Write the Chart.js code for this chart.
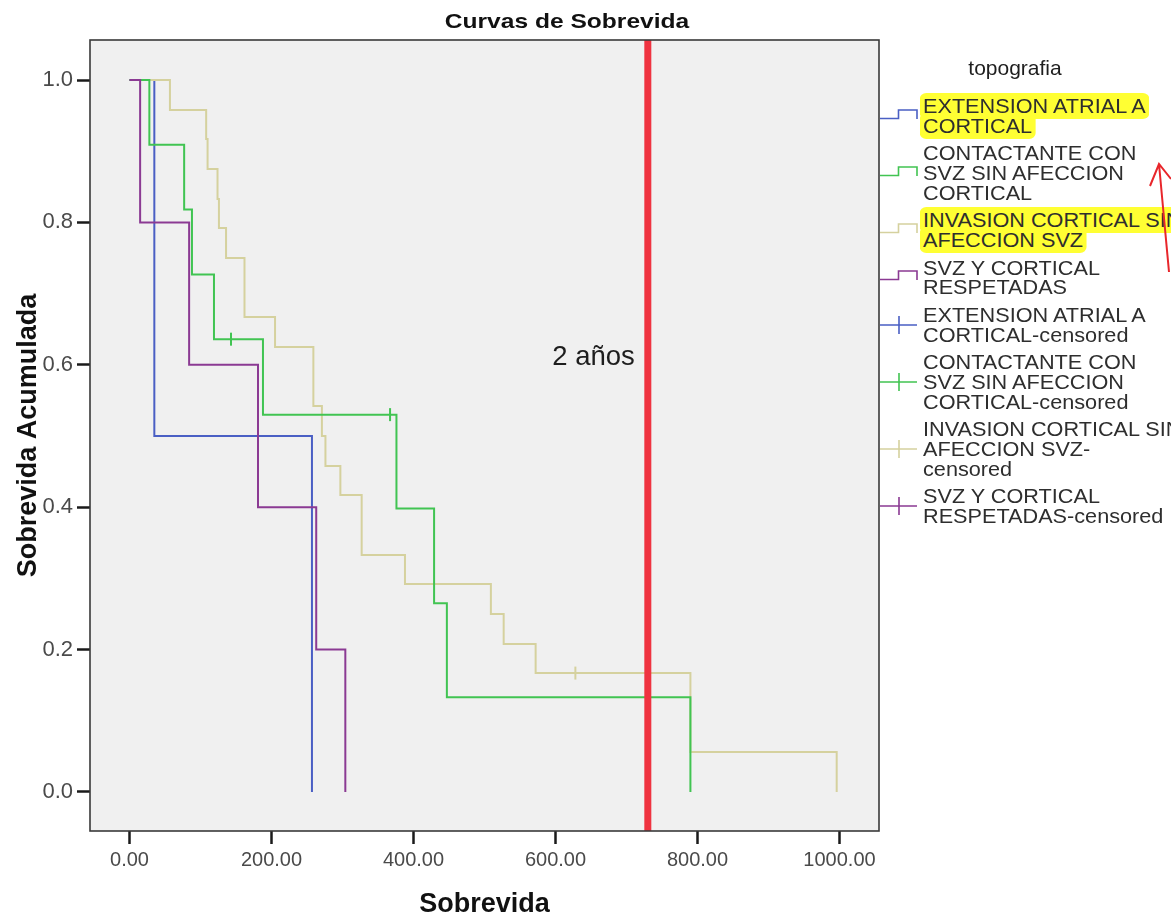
<!DOCTYPE html>
<html><head><meta charset="utf-8">
<script src="https://cdn.jsdelivr.net/npm/chart.js@4/dist/chart.umd.min.js"></script>
<style>
html,body{margin:0;padding:0;background:#fff;overflow:hidden;}
#wrap{position:relative;width:1171px;height:917px;overflow:hidden;background:#fff;}
#c{position:absolute;left:0;top:0;}
#legend{position:absolute;left:880px;top:97px;font-family:'Liberation Sans',Arial,sans-serif;color:#2e2e2e;}
#ltitle{position:absolute;left:915px;top:56px;width:200px;text-align:center;font-family:'Liberation Sans',Arial,sans-serif;font-size:21px;line-height:24px;color:#1e1e1e;}
.item{position:relative;padding-left:43px;margin-bottom:7.7px;line-height:19.8px;font-size:20px;white-space:nowrap;}
.item svg{position:absolute;left:0;top:50%;}
.txt{transform:scaleX(1.083);transform-origin:0 0;}
.hl span{background:#ffff33;border-radius:6px;-webkit-box-decoration-break:clone;box-decoration-break:clone;padding:2px 3px;margin-left:-3px;}
#arrow{position:absolute;left:0;top:0;pointer-events:none;}
</style></head>
<body><div id="wrap"><canvas id="c" width="1171" height="917"></canvas><div id="ltitle"></div><div id="legend"></div>
<svg id="arrow" width="1171" height="917"><path d="M1169,272 L1159,164 M1150,186 L1159,164 L1171,179" fill="none" stroke="#e8262b" stroke-width="2"/></svg>
</div>
<script>
const chartTitle = 'Curvas de Sobrevida';
const xAxisTitle = 'Sobrevida';
const yAxisTitle = 'Sobrevida Acumulada';
const legendTitle = 'topografia';
const cutoffTime = 730;
const cutoffLabel = '2 años';

const xTickValues = [0, 200, 400, 600, 800, 1000];
const yTickValues = [0, 0.2, 0.4, 0.6, 0.8, 1.0];

// EXTENSION ATRIAL A CORTICAL
const blueTimes = [0, 35, 257];
const blueSurv  = [1, 0.5, 0];
// CONTACTANTE CON SVZ SIN AFECCION CORTICAL
const greenTimes = [0, 28, 77, 88, 119, 188, 376, 429, 447, 790];
const greenSurv  = [1, 0.909, 0.818, 0.727, 0.636, 0.530, 0.398, 0.265, 0.133, 0];
const greenCensorTimes = [143, 367];
const greenCensorSurv  = [0.636, 0.530];
// INVASION CORTICAL SIN AFECCION SVZ
const tanTimes = [0, 57, 108, 110, 124, 126, 136, 162, 205, 259, 271, 276, 297, 327, 388, 509, 527, 572, 790, 996];
const tanSurv  = [1, 0.958, 0.917, 0.875, 0.833, 0.792, 0.75, 0.667, 0.625, 0.542, 0.5, 0.458, 0.417, 0.333, 0.292, 0.25, 0.208, 0.167, 0.056, 0];
const tanCensorTimes = [628];
const tanCensorSurv  = [0.167];
// SVZ Y CORTICAL RESPETADAS
const purpleTimes = [0, 15, 84, 181, 263, 304];
const purpleSurv  = [1, 0.8, 0.6, 0.4, 0.2, 0];

const colBlue = '#4a5fc4', colGreen = '#41c452', colTan = '#d5d19e', colPurple = '#8b3a93', colRed = '#ef3340';

const legendItems = [
  {lines:['EXTENSION ATRIAL A','CORTICAL'], color:colBlue, kind:'step', hl:true},
  {lines:['CONTACTANTE CON','SVZ SIN AFECCION','CORTICAL'], color:colGreen, kind:'step'},
  {lines:['INVASION CORTICAL SIN','AFECCION SVZ'], color:colTan, kind:'step', hl:true},
  {lines:['SVZ Y CORTICAL','RESPETADAS'], color:colPurple, kind:'step'},
  {lines:['EXTENSION ATRIAL A','CORTICAL-censored'], color:colBlue, kind:'cens'},
  {lines:['CONTACTANTE CON','SVZ SIN AFECCION','CORTICAL-censored'], color:colGreen, kind:'cens'},
  {lines:['INVASION CORTICAL SIN','AFECCION SVZ-','censored'], color:colTan, kind:'cens'},
  {lines:['SVZ Y CORTICAL','RESPETADAS-censored'], color:colPurple, kind:'cens'}
];

const X_MIN = -55.6, X_MAX = 1055.6, Y_MIN = -0.0548, Y_MAX = 1.0562;
const FONT = "'Liberation Sans', Arial, sans-serif";

function pts(t, s){ return t.map((v,i)=>({x:v, y:s[i]})); }

function curve(label, t, s, color, order){
  return {label, data:pts(t,s), borderColor:color, backgroundColor:color, borderWidth:2,
    stepped:'before', pointRadius:0, fill:false, order, tension:0};
}
function censor(label, t, s, color, order){
  return {label, data:pts(t,s), showLine:false, borderColor:color, backgroundColor:color,
    pointStyle:'line', rotation:90, pointRadius:6.5, pointBorderWidth:2, order};
}

const framePlugin = {
  id:'frame',
  beforeDraw(chart){
    const {ctx, chartArea:a} = chart;
    ctx.save();
    ctx.fillStyle = '#f0f0f0';
    ctx.fillRect(a.left, a.top, a.right-a.left, a.bottom-a.top);
    ctx.restore();
  },
  afterDatasetsDraw(chart){
    const {ctx, chartArea:a, scales} = chart;
    ctx.save();
    ctx.strokeStyle = '#3a3a3a';
    ctx.lineWidth = 1.6;
    ctx.strokeRect(a.left, a.top, a.right-a.left, a.bottom-a.top);
    ctx.fillStyle = '#1e1e1e';
    ctx.font = '27.5px ' + FONT;
    ctx.textAlign = 'right';
    ctx.textBaseline = 'middle';
    ctx.fillText(cutoffLabel, scales.x.getPixelForValue(cutoffTime) - 13, scales.y.getPixelForValue(0.61));
    ctx.restore();
  },
  afterDraw(chart){
    const {ctx} = chart;
    ctx.save();
    ctx.fillStyle = '#111';
    ctx.font = 'bold 21px ' + FONT;
    ctx.textAlign = 'center';
    ctx.textBaseline = 'middle';
    ctx.translate(567, 22);
    ctx.scale(1.17, 1);
    ctx.fillText(chartTitle, 0, 0);
    ctx.restore();
  }
};

new Chart(document.getElementById('c'), {
  type:'line',
  data:{datasets:[
    {label:cutoffLabel, data:[{x:cutoffTime,y:Y_MIN},{x:cutoffTime,y:Y_MAX}], borderColor:colRed, borderWidth:7, pointRadius:0, order:0},
    curve('SVZ Y CORTICAL RESPETADAS', purpleTimes, purpleSurv, colPurple, 1),
    curve('CONTACTANTE CON SVZ SIN AFECCION CORTICAL', greenTimes, greenSurv, colGreen, 2),
    censor('CONTACTANTE CON SVZ SIN AFECCION CORTICAL-censored', greenCensorTimes, greenCensorSurv, colGreen, 2),
    curve('INVASION CORTICAL SIN AFECCION SVZ', tanTimes, tanSurv, colTan, 3),
    censor('INVASION CORTICAL SIN AFECCION SVZ-censored', tanCensorTimes, tanCensorSurv, colTan, 3),
    curve('EXTENSION ATRIAL A CORTICAL', blueTimes, blueSurv, colBlue, 4)
  ]},
  options:{
    responsive:false, animation:false,
    layout:{padding:{left:0, right:292, top:40, bottom:0}},
    plugins:{legend:{display:false}, title:{display:false}, tooltip:{enabled:false}},
    scales:{
      x:{type:'linear', min:X_MIN, max:X_MAX,
        afterBuildTicks:(s)=>{ s.ticks = xTickValues.map(v=>({value:v})); },
        afterFit:(s)=>{ s.height = 86; },
        ticks:{callback:(v)=>Number(v).toFixed(2), color:'#4a4a4a', font:{family:FONT, size:20}, padding:4, maxRotation:0, autoSkip:false},
        grid:{drawOnChartArea:false, drawTicks:true, tickLength:13, tickWidth:2.5, tickColor:'#1a1a1a'},
        border:{display:false},
        title:{display:true, text:xAxisTitle, color:'#111', font:{family:FONT, size:27, weight:'bold', lineHeight:0.9}, padding:{top:0,bottom:0}}
      },
      y:{type:'linear', min:Y_MIN, max:Y_MAX,
        afterBuildTicks:(s)=>{ s.ticks = yTickValues.map(v=>({value:v})); },
        afterFit:(s)=>{ s.width = 90; },
        ticks:{callback:(v)=>Number(v).toFixed(1), color:'#4a4a4a', font:{family:FONT, size:22}, padding:4, autoSkip:false},
        grid:{drawOnChartArea:false, drawTicks:true, tickLength:13, tickWidth:2.5, tickColor:'#1a1a1a'},
        border:{display:false},
        title:{display:true, text:yAxisTitle, color:'#111', font:{family:FONT, size:27, weight:'bold'}, padding:{top:12,bottom:0}}
      }
    }
  },
  plugins:[framePlugin]
});

// HTML legend
document.getElementById('ltitle').textContent = legendTitle;
const leg = document.getElementById('legend');
legendItems.forEach(it=>{
  const d = document.createElement('div');
  d.className = 'item' + (it.hl ? ' hl' : '');
  const svgNS = 'http://www.w3.org/2000/svg';
  const svg = document.createElementNS(svgNS,'svg');
  svg.setAttribute('width','40'); svg.setAttribute('height','18');
  const p = document.createElementNS(svgNS,'path');
  if (it.kind === 'step') {
    p.setAttribute('d','M0,12.5 H18.5 V4 H37 V13');
    svg.style.marginTop = '-11px';
  } else {
    p.setAttribute('d','M0,9 H37 M19,0 V18');
    svg.style.marginTop = '-10px';
  }
  p.setAttribute('fill','none'); p.setAttribute('stroke', it.color); p.setAttribute('stroke-width','1.6');
  svg.appendChild(p);
  d.appendChild(svg);
  const txt = document.createElement('div');
  txt.className = 'txt';
  const span = document.createElement('span');
  it.lines.forEach((ln,i)=>{ if(i) span.appendChild(document.createElement('br')); span.appendChild(document.createTextNode(ln)); });
  txt.appendChild(span);
  d.appendChild(txt);
  leg.appendChild(d);
});
</script>
</body></html>
